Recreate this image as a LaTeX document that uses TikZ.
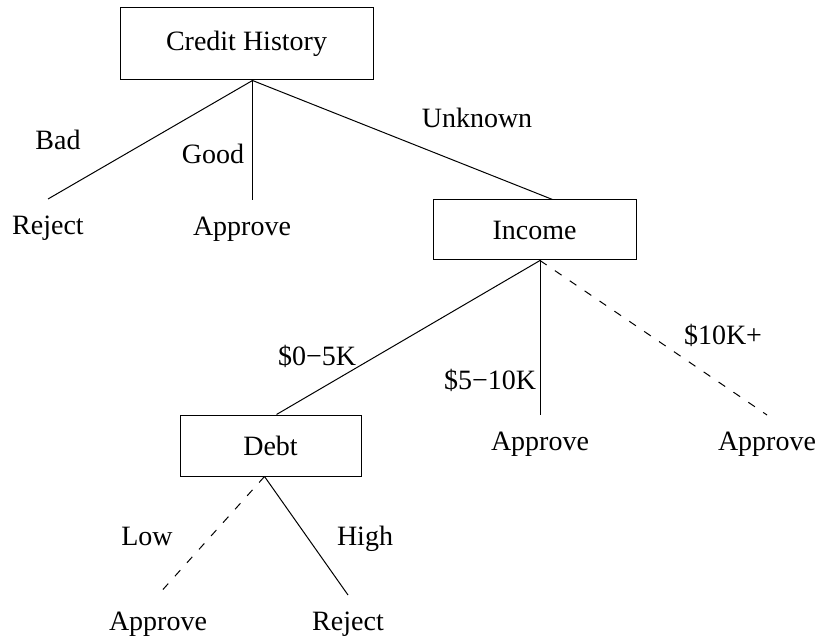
\documentclass[tikz,border=0pt]{standalone}
\usepackage{fontspec}
\setmainfont{Liberation Serif}
\tikzset{
    attr/.style={draw, line width=0.5pt, font=\fontsize{14}{17}\selectfont},
    leaf/.style={anchor=north, inner ysep=7.5pt, text height=10pt, text depth=3pt, font=\fontsize{14}{17}\selectfont},
    edgelabel/.style={inner sep=1pt, text height=10pt, text depth=3pt, font=\fontsize{14}{17}\selectfont},
    branch/.style={line width=0.5pt},
    optional/.style={dash pattern=on 4pt off 5pt}
}
\begin{document}
\begin{tikzpicture}[x=0.5pt, y=-0.5pt]
    \useasboundingbox (0,0) rectangle (823,641);

    % Attribute boxes
    \node[attr, minimum width=126.5pt, minimum height=36pt] (credit) at (246.5,44) {Credit History};
    \node[attr, minimum width=101.5pt, minimum height=30pt] (income) at (534.5,230) {Income};
    \node[attr, minimum width=90.5pt, minimum height=30.5pt] (debt) at (270.5,445.5) {Debt};

    % Fork points under the boxes
    \coordinate (chfork) at ([xshift=3pt]credit.south);
    \coordinate (incfork) at ([xshift=2.75pt]income.south);
    \coordinate (debtfork) at ([xshift=-3pt]debt.south);

    % Leaves
    \node[leaf] (rej1) at (48,199) {Reject};
    \node[leaf] (app1) at (242,200) {Approve};
    \node[leaf] (app2) at (540,415) {Approve};
    \node[leaf] (app3) at (767,415) {Approve};
    \node[leaf] (app4) at (158,595) {Approve};
    \node[leaf] (rej2) at (348,595) {Reject};

    % Credit History branches
    \draw[branch] (chfork) -- (rej1.north);
    \draw[branch] (chfork) -- (chfork |- app1.north);
    \draw[branch] (chfork) -- ([xshift=9pt]income.north);
    \node[edgelabel] (bad) at (58,143) {Bad};
    \node[edgelabel] (good) at (213,157) {Good};
    \node[edgelabel] (unknown) at (477,121) {Unknown};

    % Income branches
    \draw[branch] (incfork) -- ([xshift=3pt]debt.north);
    \draw[branch] (incfork) -- (incfork |- app2.north);
    \draw[branch, optional] (incfork) -- (app3.north);
    \node[edgelabel] (low5k) at (317,358) {\$0−5K};
    \node[edgelabel] (mid10k) at (490,382) {\$5−10K};
    \node[edgelabel] (high10k) at (723,337) {\$10K+};

    % Debt branches
    \draw[branch, optional] (debtfork) -- (app4.north);
    \draw[branch] (debtfork) -- (rej2.north);
    \node[edgelabel] (low) at (147,538) {Low};
    \node[edgelabel] (high) at (365,538) {High};
\end{tikzpicture}
\end{document}
